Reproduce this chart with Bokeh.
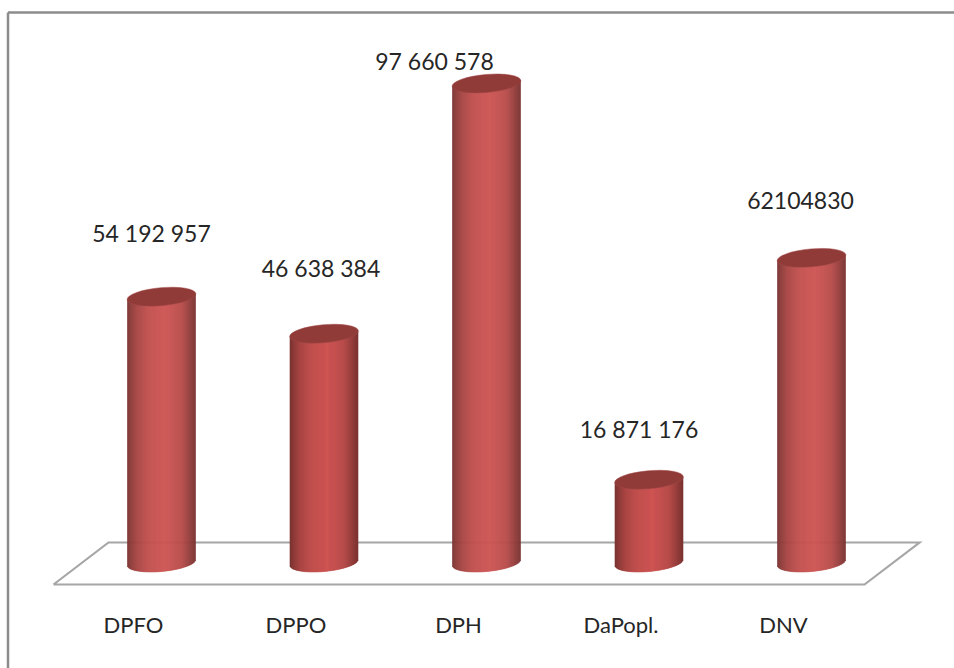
import numpy as np
from bokeh.plotting import figure
from bokeh.models import Range1d, ColumnDataSource
from bokeh.core.properties import value
from bokeh.embed import file_html
from bokeh.resources import INLINE

categories = ["DPFO", "DPPO", "DPH", "DaPopl.", "DNV"]
values = [54192957, 46638384, 97660578, 16871176, 62104830]
value_labels = ["54 192 957", "46 638 384", "97 660 578", "16 871 176", "62104830"]
label_dx = [-10, -3, -52, -10, -11]
label_dy = [-64, -66, -22, -51, -57]

FONT = "Lato"
TEXT_COLOR = "#262626"
LINE_COLOR = "#a6a6a6"
BORDER_COLOR = "#8c8c8c"
CAP_COLOR = "#913b39"

# pixel geometry of the picture: one category = 162.5 px, one million = 4.905 px
X0, XS = 161.0, 162.5
Y0, YS = 562.0, 4.905e-6
def dx(px): return (np.asarray(px, dtype=float) - X0) / XS
def dy(px): return (Y0 - np.asarray(px, dtype=float)) / YS

W, H = 954, 668
p = figure(width=W, height=H, x_range=Range1d(float(dx(0)), float(dx(W))),
           y_range=Range1d(float(dy(H)), float(dy(0))),
           output_backend="svg", toolbar_location=None, min_border=0,
           x_axis_type=None, y_axis_type=None, outline_line_color=None)
p.grid.visible = False

# chart border: only top and left edges
p.line(dx([7.5, 7.5]), dy([H, 12]), line_color=BORDER_COLOR, line_width=2.5)
p.line(dx([7.5, W]), dy([12, 12]), line_color=BORDER_COLOR, line_width=2.5)

# floor
p.line(dx([53, 108, 919, 864, 53]), dy([584, 542, 542, 584, 584]),
       line_color=LINE_COLOR, line_width=2.2, line_join="miter")

A, B = 34.0, 9.0
TILT = np.radians(5)
stops_t = [0, .05, .15, .3, .55, .8, .93, 1]
stops_r = [118, 140, 168, 192, 206, 184, 145, 122]
stops_g = [50, 58, 69, 79, 85, 76, 60, 51]
stops_b = [48, 56, 67, 77, 83, 74, 58, 49]

off = np.arange(-A, A, 1.0)
t = (off + .5 + A) / (2 * A)
cols = ["#%02x%02x%02x" % (int(np.interp(v, stops_t, stops_r)),
                            int(np.interp(v, stops_t, stops_g)),
                            int(np.interp(v, stops_t, stops_b))) for v in t]

for i, v in enumerate(values):
    cx = X0 + i * XS
    mid = off + .5
    curve = B * np.sqrt(np.clip(1 - (mid / A) ** 2, 0, 1))
    slope = mid * np.tan(TILT)
    bottom_px = Y0 + curve - slope
    top_px = (Y0 - v * YS) - slope
    p.quad(left=dx(cx + off), right=dx(cx + off + 1), bottom=dy(bottom_px), top=dy(top_px),
           fill_color=cols, line_color=cols, line_width=0.6)

p.ellipse(x=list(range(5)), y=values, width=2 * A + 1, height=2 * B,
          width_units="screen", height_units="screen", angle=TILT,
          fill_color=CAP_COLOR, line_color="#a04a48", line_width=0.5)

src = ColumnDataSource(dict(x=list(range(5)), y=values, t=value_labels,
                            xo=label_dx, yo=label_dy))
p.text(x="x", y="y", text="t", x_offset="xo", y_offset="yo", source=src,
       text_font=value(FONT), text_font_size="23px", text_align="center",
       text_baseline="middle", text_color=TEXT_COLOR)

p.text(x=list(range(5)), y=[float(dy(624))] * 5, text=categories, x_offset=-28,
       text_font=value(FONT), text_font_size="22px", text_align="center",
       text_baseline="middle", text_color=TEXT_COLOR)

open("out.html", "w").write(file_html(p, INLINE))
